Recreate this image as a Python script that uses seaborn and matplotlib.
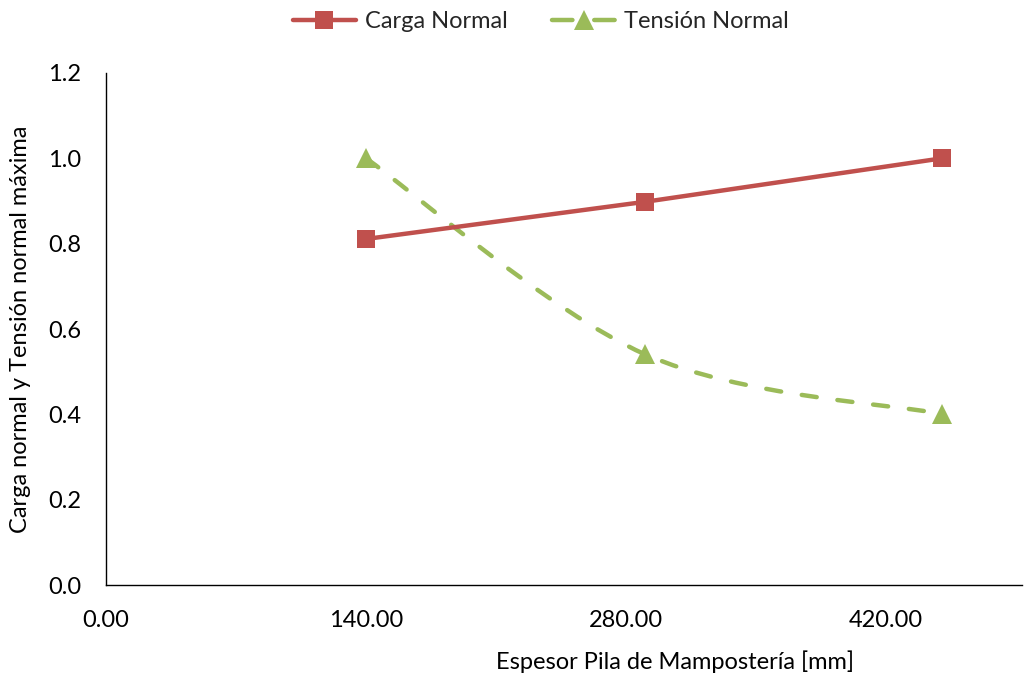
import numpy as np
import pandas as pd
import matplotlib
matplotlib.use("Agg")
import matplotlib.pyplot as plt
from matplotlib.path import Path
from matplotlib.patches import PathPatch
from matplotlib.lines import Line2D
import seaborn as sns

# Data
espesor = [140, 290, 450]
carga_normal = [0.811, 0.898, 1.0]
tension_normal = [1.0, 0.541, 0.401]
x_ticks = [0, 140, 280, 420]
y_ticks = [0.0, 0.2, 0.4, 0.6, 0.8, 1.0, 1.2]

RED = "#C0504D"
GREEN = "#9BBB59"
FS = 17

sns.set_theme(style="white")
plt.rcParams["font.family"] = ["Lato", "DejaVu Sans"]

df = pd.DataFrame({"espesor": espesor, "carga": carga_normal, "tension": tension_normal})

fig = plt.figure(figsize=(10.26, 6.79), dpi=100)
ax = fig.add_axes([0.1033, 0.1384, 0.8927, 0.7541])

# Carga Normal: solid line with square markers
sns.lineplot(data=df, x="espesor", y="carga", ax=ax, color=RED, lw=3.2,
             marker="s", markersize=13.5, markeredgewidth=0, zorder=3)

# Tensión Normal: smoothed dashed curve (cubic Bezier through the points)
pts = df[["espesor", "tension"]].to_numpy(dtype=float)
verts = [pts[0]]
codes = [Path.MOVETO]
n = len(pts)
for i in range(n - 1):
    p_prev = pts[i - 1] if i > 0 else pts[i]
    p_next = pts[i + 2] if i + 2 < n else pts[i + 1]
    c1 = pts[i] + (pts[i + 1] - p_prev) / 6.0
    c2 = pts[i + 1] - (p_next - pts[i]) / 6.0
    verts += [c1, c2, pts[i + 1]]
    codes += [Path.CURVE4] * 3
curve = PathPatch(Path(verts, codes), facecolor="none", edgecolor=GREEN, lw=3.2,
                  linestyle=(0, (3.4, 4.7)), capstyle="round", zorder=2)
ax.add_patch(curve)
sns.lineplot(data=df, x="espesor", y="tension", ax=ax, color=GREEN, linestyle="none",
             marker="^", markersize=14.5, markeredgewidth=0, zorder=4)

ax.set_xlim(0, 493)
ax.set_ylim(0, 1.2)
ax.set_xticks(x_ticks)
ax.set_xticklabels([f"{v:.2f}" for v in x_ticks])
ax.set_yticks(y_ticks)
ax.set_yticklabels([f"{v:.1f}" for v in y_ticks])

for s in ("top", "right"):
    ax.spines[s].set_visible(False)
for s in ("left", "bottom"):
    ax.spines[s].set_color("black")
    ax.spines[s].set_linewidth(1.0)
ax.tick_params(axis="both", which="major", direction="out", length=6, width=1.0,
               color="black", labelsize=FS, labelcolor="black")
ax.tick_params(axis="y", pad=12)
ax.tick_params(axis="x", pad=12)

ax.set_xlabel("Espesor Pila de Mampostería [mm]", fontsize=FS, color="black")
ax.xaxis.set_label_coords((675 - 106) / 916, -0.128)
ax.set_ylabel("Carga normal y Tensión normal máxima", fontsize=FS, color="black")
ax.yaxis.set_label_coords(-0.082, 0.5)

handles = [
    Line2D([0], [0], color=RED, lw=3.2, marker="s", markersize=13.5, markeredgewidth=0),
    Line2D([0], [0], color=GREEN, lw=3.2, linestyle=(0, (4.6, 4.9)), marker="^",
           markersize=14.5, markeredgewidth=0, dash_capstyle="round"),
]
fig.legend(handles, ["Carga Normal", "Tensión Normal"], loc="center",
           bbox_to_anchor=(0.527, 0.968), ncol=2, frameon=False, fontsize=FS,
           handlelength=2.7, columnspacing=1.9, handletextpad=0.35)

fig.savefig("out.png", dpi=100, facecolor="white")
